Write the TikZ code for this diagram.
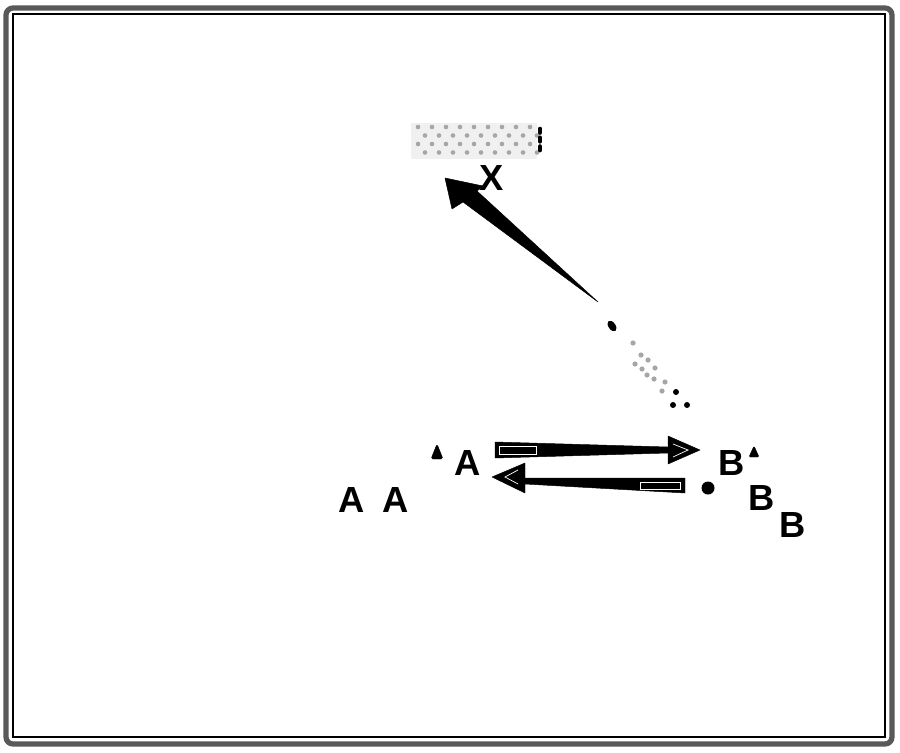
\documentclass[tikz,border=0pt]{standalone}
\usepackage{fontspec}
\setmainfont{Liberation Sans}
\usetikzlibrary{positioning}
\tikzstyle{lbl}=[inner sep=0pt,font=\fontsize{31}{33}\selectfont\bfseries]
\tikzstyle{tip}=[fill=black,draw=black,line join=round]
\tikzstyle{hollow}=[draw=white,line width=0.6pt]
\tikzstyle{speck}=[fill=black!35,draw=none]

\begin{document}
\begin{tikzpicture}[x=0.03cm,y=-0.03cm]
\useasboundingbox (0,0) rectangle (900,752);
% frame
\draw[black!65,line width=4.5pt,rounded corners=6pt] (6,8) rectangle (892,744);
\draw[line width=1.2pt] (13,14) rectangle (885,737);
% hatched box and its label
\node[fill=black!6,minimum width=3.8cm,minimum height=1.1cm,inner sep=0pt] (box) at (474,141) {};
\foreach \i in {0,...,8}
  \foreach \j in {0,2}{
    \fill[speck] (418+14*\i,127+8.5*\j) circle (2.3);
    \fill[speck] (425+14*\i,135.5+8.5*\j) circle (2.3);
  }
\draw[line width=4pt,line cap=round,dash pattern=on 3pt off 4.5pt] (540,129) -- (540,155);
\node[lbl] (x) at (492,178) {X};
% long arrow up to the box
\coordinate (tipX) at (445,178);
\coordinate (tail) at (598,302);
\fill[tip] (tipX) -- (452,209) -- (463,202) -- (tail) -- (477,191) -- (483,186) -- cycle;
\fill[rotate around={-55:(612,326)}] (612,326) ellipse (6 and 3.5);
% specks below
\foreach \p in {(633,343),(641,355),(648,360),(635,364),(642,369),(655,368),(647,375),(654,379),(665,382),(662,391)}
  \fill[speck] \p circle (2.6);
\foreach \p in {(676,392),(673,405),(687,405)}
  \fill \p circle (3);
% arrow A -> B
\coordinate (a1) at (495,450);
\coordinate (b1) at (700,450);
\fill[tip] (495,442) -- (668,447) -- (668,453) -- (495,458) -- cycle;
\fill[tip] (668,436) -- (b1) -- (668,464) -- cycle;
\draw[hollow] (499,446) rectangle (536,454);
\draw[hollow] (673,444) -- (688,450) -- (673,457);
% arrow B -> A
\coordinate (b2) at (685,485);
\coordinate (a2) at (492,477);
\fill[tip] (525,478) -- (685,478) -- (685,493) -- (525,484) -- cycle;
\fill[tip] (525,463) -- (a2) -- (525,493) -- cycle;
\draw[hollow] (640,482) rectangle (680,489);
\draw[hollow] (518,470) -- (505,477) -- (518,484);
% labels
\node[lbl] (a) at (468,463) {A};
\node[lbl] (aa) at (352,500) {A};
\node[lbl] (ab) at (396,500) {A};
\node[lbl] (b) at (732,463) {B};
\node[lbl] (bb) at (762,498) {B};
\node[lbl] (bc) at (793,525) {B};
% small marks
\fill[tip,rounded corners=1.5pt] (431,459) -- (437,444) -- (443,459) -- cycle;
\fill[tip,rounded corners=1pt] (749,457) -- (754,446) -- (759,457) -- cycle;
\fill (708,488) circle (6.5);
\end{tikzpicture}
\end{document}
